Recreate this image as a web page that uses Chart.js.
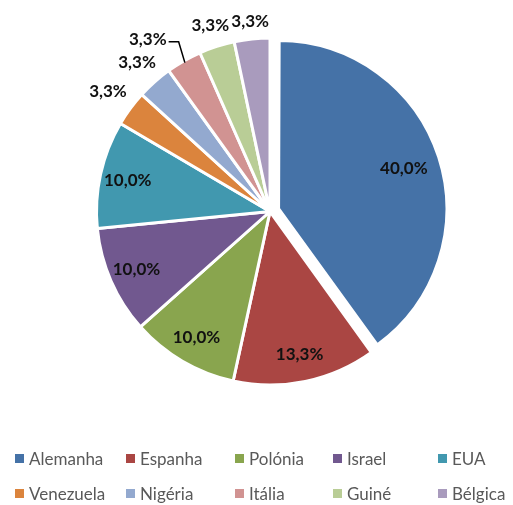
<!DOCTYPE html>
<html>
<head>
<meta charset="utf-8">
<script src="https://cdn.jsdelivr.net/npm/chart.js@4/dist/chart.umd.min.js"></script>
<style>
  html, body { margin: 0; padding: 0; background: #fff; }
  #wrap { position: relative; width: 513px; height: 505px; overflow: hidden; }
  #chartBox { position: absolute; left: 0; top: 0; width: 513px; height: 440px; }
  #legend { position: absolute; left: 0; top: 0; width: 513px; height: 505px; pointer-events: none; }
  .item { position: absolute; display: flex; align-items: center; font-family: Lato, sans-serif; font-size: 17px; color: #595959; white-space: nowrap; }
  .item span.box { display: inline-block; width: 9px; height: 9px; margin-right: 5px; }
</style>
</head>
<body>
<div id="wrap">
  <div id="chartBox"><canvas id="pie"></canvas></div>
  <div id="legend"></div>
</div>
<script>
// Países e respetiva percentagem
const countries = ['Alemanha', 'Espanha', 'Polónia', 'Israel', 'EUA', 'Venezuela', 'Nigéria', 'Itália', 'Guiné', 'Bélgica'];
const percentages = [40.0, 13.3, 10.0, 10.0, 10.0, 3.3, 3.3, 3.3, 3.3, 3.3];
const colors = ['#4572A7', '#AA4643', '#89A54E', '#71588F', '#4198AF', '#DB843D', '#93A9CF', '#D19392', '#B9CD96', '#A99BBD'];

// Legend grid: column lefts and row centres
const legendCols = [15, 126, 235, 333, 438];
const legendRows = [458, 493];

function fmt(v) {
  return v.toFixed(1).replace('.', ',') + '%';
}

// The exploded slice is drawn a little smaller than the rest
const explodePlugin = {
  id: 'explode',
  afterDatasetUpdate(chart, args) {
    const arc = chart.getDatasetMeta(args.index).data[0];
    if (arc) arc.outerRadius -= 9;
  }
};

// Labels: inside for big slices, outside for small ones
const labelPlugin = {
  id: 'sliceLabels',
  afterDatasetsDraw(chart) {
    const ctx = chart.ctx;
    const meta = chart.getDatasetMeta(0);
    const nudges = { 'Itália': { dx: -24, dy: 0 } };
    const h = 16;
    ctx.save();
    ctx.font = 'bold 17px Lato, sans-serif';
    ctx.fillStyle = '#111';
    ctx.textAlign = 'center';
    ctx.textBaseline = 'middle';
    meta.data.forEach((arc, i) => {
      const v = percentages[i];
      const text = fmt(v);
      const w = ctx.measureText(text).width;
      const mid = (arc.startAngle + arc.endAngle) / 2;
      // arcs are shifted by a quarter of their offset option
      const off = (arc.options.offset || 0) / 4;
      const cos = Math.cos(mid), sin = Math.sin(mid);
      const cx = arc.x + cos * off;
      const cy = arc.y + sin * off;
      const r = arc.outerRadius;
      let d;
      if (v >= 10) {
        d = r * (i === 0 ? 0.8 : 0.84);
      } else {
        // keep the label box a fixed gap away from the rim
        d = r + 8 + Math.abs(cos) * w / 2 + Math.abs(sin) * h / 2;
      }
      let x = cx + cos * d;
      let y = cy + sin * d;
      const n = nudges[countries[i]];
      if (v < 10 && n) {
        x += n.dx;
        y += n.dy;
        ctx.beginPath();
        ctx.strokeStyle = '#000';
        ctx.lineWidth = 1.5;
        ctx.moveTo(x + w / 2 + 2, y + 2);
        ctx.lineTo(x + w / 2 + 12, y + 2);
        ctx.lineTo(cx + cos * (r - 2), cy + sin * (r - 2));
        ctx.stroke();
      }
      ctx.fillText(text, x, y);
    });
    ctx.restore();
  }
};

new Chart(document.getElementById('pie'), {
  type: 'pie',
  data: {
    labels: countries,
    datasets: [{
      data: percentages,
      backgroundColor: colors,
      borderColor: '#fff',
      borderWidth: 3,
      offset: percentages.map((v, i) => i === 0 ? 36 : 0)
    }]
  },
  options: {
    responsive: true,
    maintainAspectRatio: false,
    animation: false,
    radius: 173.5,
    layout: { padding: { left: 27, right: 0, top: 0, bottom: 17 } },
    plugins: {
      legend: { display: false },
      tooltip: { enabled: false }
    }
  },
  plugins: [explodePlugin, labelPlugin]
});

// Legend in two rows of five
const legend = document.getElementById('legend');
countries.forEach((name, i) => {
  const el = document.createElement('div');
  el.className = 'item';
  el.style.left = legendCols[i % 5] + 'px';
  el.style.top = (legendRows[Math.floor(i / 5)] - 12) + 'px';
  el.style.height = '24px';
  el.innerHTML = '<span class="box" style="background:' + colors[i] + '"></span>' + name;
  legend.appendChild(el);
});
</script>
</body>
</html>
